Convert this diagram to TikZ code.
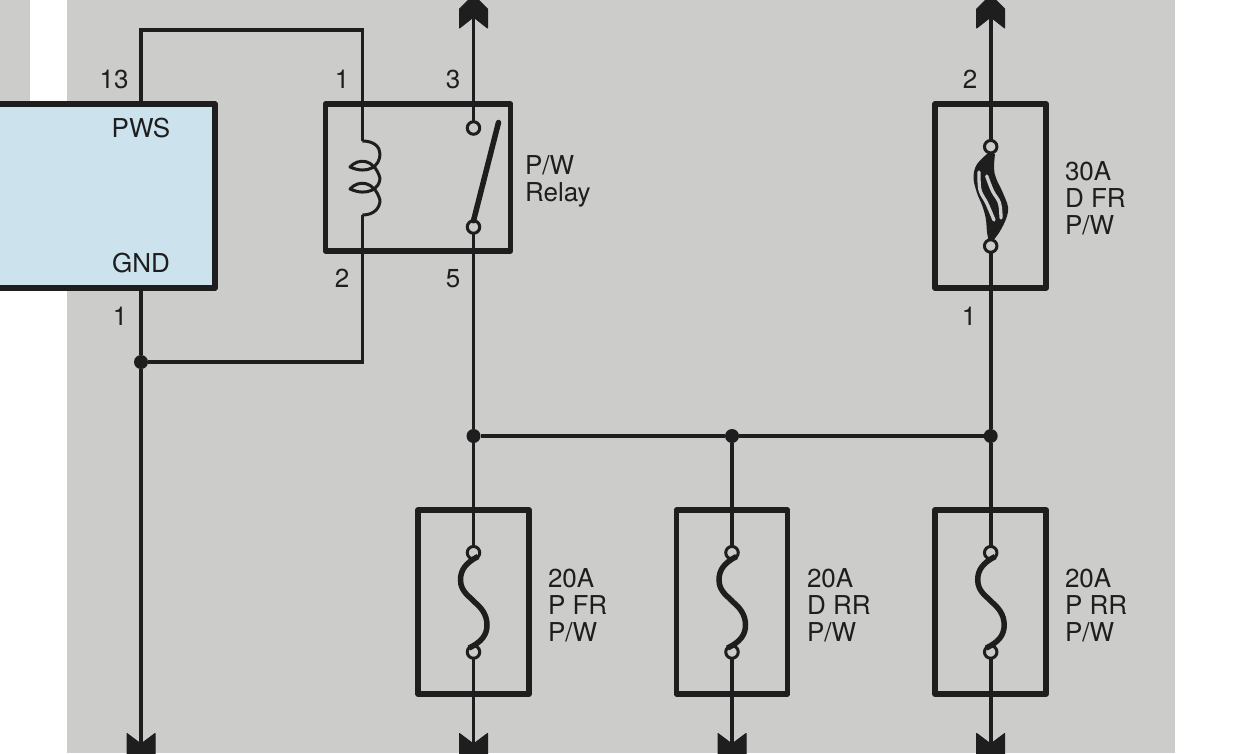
\documentclass[tikz,border=0pt]{standalone}
\usepackage{fontspec}
\setmainfont{TeX Gyre Heros}
\pgfdeclarelayer{bg}
\pgfdeclarelayer{wires}
\pgfsetlayers{bg,wires,main}
\definecolor{panel}{HTML}{CCCCCB}
\definecolor{modul}{HTML}{CCE3EE}
\definecolor{ink}{HTML}{1E1E1E}
\tikzset{
  wire/.style={draw=ink,line width=3.7pt,line join=miter},
  boxframe/.style={draw=ink,line width=5.6pt,line join=round,inner sep=0pt,outer sep=0pt,rectangle},
  fusebox/.style={boxframe,minimum width=111pt,minimum height=184pt},
  pin/.style={circle,draw=ink,fill=panel,line width=3pt,minimum size=12.5pt,inner sep=0pt,outer sep=0pt},
  junction/.style={circle,fill=ink,minimum size=14pt,inner sep=0pt,outer sep=0pt},
  blade/.style={draw=ink,line width=5.5pt},
  lbl/.style={text=ink,inner sep=0pt,outer sep=0pt,font=\fontsize{26}{27}\selectfont},
  note/.style={lbl,align=left,anchor=base west},
  num/.style={lbl,anchor=base},
  tipfill/.style={fill=ink,draw=ink,line width=1pt,line join=round},
  pics/uptip/.style={code={\path[tipfill] (-14,28) -- (0,17) -- (14,28) -- (14,9) -- (0,-5) -- (-14,9) -- cycle;}},
  pics/downtip/.style={code={\path[tipfill] (-14,-19.5) -- (0,-9) -- (14,-19.5) -- (14,7) -- (-14,7) -- cycle;}},
  pics/plainfuse/.style={code={
    \draw[blade,line cap=butt] (4.5,-45.5) .. controls (-8,-39) and (-13,-32) .. (-13,-22)
      .. controls (-13,-10) and (-3,-5) .. (1,0)
      .. controls (7,5) and (13.5,12) .. (13.5,23)
      .. controls (13.5,33) and (8,40) .. (-4.5,46);}}
}
\begin{document}
\begin{tikzpicture}[x=1pt,y=-1pt]
\useasboundingbox (0,0) rectangle (1242,753);
\begin{pgfonlayer}{bg}
\fill[white] (0,0) rectangle (1242,753);
\fill[panel] (0,0) rectangle (30,104);
\fill[panel] (67,0) rectangle (1175,753);
\end{pgfonlayer}

% free ends and bends
\coordinate (topW) at (141,30);
\coordinate (topE) at (362.5,30);
\coordinate (ret) at (362.5,362);
\coordinate (relayTop) at (473.5,0);
\coordinate (fuseTop) at (990.7,0);
\coordinate (botGnd) at (141,753);
\coordinate (botA) at (473.5,753);
\coordinate (botB) at (732,753);
\coordinate (botC) at (990.7,753);
\coordinate (coilA) at (362.5,141);
\coordinate (coilB) at (362.5,215);

% boxes
\node[boxframe,fill=modul,minimum width=255pt,minimum height=184pt] (ecu) at (87.5,196) {};
\node[boxframe,minimum width=185pt,minimum height=147pt] (relay) at (418,177.5) {};
\node[fusebox] (fuseMain) at (990.7,196) {};
\node[fusebox] (fuseA) at (473.5,602) {};
\node[fusebox] (fuseB) at (732,602) {};
\node[fusebox] (fuseC) at (990.7,602) {};

% junctions
\node[junction] (jGnd) at (141,362) {};
\node[junction] (jA) at (473.5,436) {};
\node[junction] (jB) at (732,436) {};
\node[junction] (jC) at (990.7,436) {};

% terminals
\node[pin] (relayP3) at (473.5,128) {};
\node[pin] (relayP5) at (473.5,227) {};
\node[pin] (mainT) at (990.7,146.7) {};
\node[pin] (mainB) at (990.7,246) {};
\node[pin] (aT) at (473.5,552.7) {};
\node[pin] (aB) at (473.5,652) {};
\node[pin] (bT) at (732,552.7) {};
\node[pin] (bB) at (732,652) {};
\node[pin] (cT) at (990.7,552.7) {};
\node[pin] (cB) at (990.7,652) {};

% wires
\begin{pgfonlayer}{wires}
\draw[wire] (topW |- ecu.north) -- (topW) -- (topE) -- (coilA);
\draw[wire] (coilB) -- (ret) -- (jGnd);
\draw[wire] (topW |- ecu.south) -- (jGnd);
\draw[wire] (jGnd) -- (botGnd);
\draw[wire] (relayTop) -- (relayP3);
\draw[wire] (relayP5) -- (jA);
\draw[wire] (jA) -- (jB);
\draw[wire] (jB) -- (jC);
\draw[wire] (fuseTop) -- (mainT);
\draw[wire] (mainB) -- (jC);
\draw[wire] (jA) -- (aT);
\draw[wire] (jB) -- (bT);
\draw[wire] (jC) -- (cT);
\draw[wire] (aB) -- (botA);
\draw[wire] (bB) -- (botB);
\draw[wire] (cB) -- (botC);
\end{pgfonlayer}

% arrow tips
\pic at (relayTop) {uptip};
\pic at (fuseTop) {uptip};
\pic at (botGnd) {downtip};
\pic at (botA) {downtip};
\pic at (botB) {downtip};
\pic at (botC) {downtip};

% relay coil
\draw[draw=ink,line width=3pt,line join=round] (coilA)
  .. controls (374,141) and (380,147) .. (380,154)
  .. controls (380,166) and (368,175) .. (350,167)
  .. controls (358,158) and (374,158) .. (380,178)
  .. controls (380,188) and (368,197) .. (350,189)
  .. controls (358,180) and (374,180) .. (380,200)
  .. controls (380,208) and (374,215) .. (coilB);
% relay contact
\draw[blade,line cap=round] (498.5,122.5) -- (relayP5.north);

% fuse elements
\pic at (fuseA) {plainfuse};
\pic at (fuseB) {plainfuse};
\pic at (fuseC) {plainfuse};
\fill[ink] plot[smooth,tension=0.6] coordinates {(987,154) (976.5,165) (973.5,178) (977,193) (982,205) (985.7,218) (987,232) (988.5,240)}
  -- plot[smooth,tension=0.6] coordinates {(993.5,240) (999.5,232) (1006,219) (1008,207) (1002.5,192) (996,178) (994,168) (995,154)} -- cycle;
\draw[panel,line width=3.3pt,line cap=round] plot[smooth,tension=0.6] coordinates {(979,172) (980,190) (986.7,203) (994,220)};
\draw[panel,line width=3.3pt,line cap=round] plot[smooth,tension=0.6] coordinates {(986.7,176) (992.5,191) (999.5,203) (1001,218)};

% labels
\node[num] (n13) at (114,88) {13};
\node[num] (n1a) at (342,88) {1};
\node[num] (n3) at (453,88) {3};
\node[num] (n2a) at (970,88) {2};
\node[num] (n2b) at (342,287) {2};
\node[num] (n5) at (453,287) {5};
\node[num] (n1b) at (120,325) {1};
\node[num] (n1c) at (969,325) {1};
\node[num] (tPws) at (141,137.5) {PWS};
\node[num] (tGnd) at (141,272) {GND};
\node[note] (tRelay) at (525,201) {P/W\\Relay};
\node[note] (tMain) at (1065,234) {30A\\D FR\\P/W};
\node[note] (tA) at (548,641) {20A\\P FR\\P/W};
\node[note] (tB) at (807,641) {20A\\D RR\\P/W};
\node[note] (tC) at (1065,641) {20A\\P RR\\P/W};
\end{tikzpicture}
\end{document}
